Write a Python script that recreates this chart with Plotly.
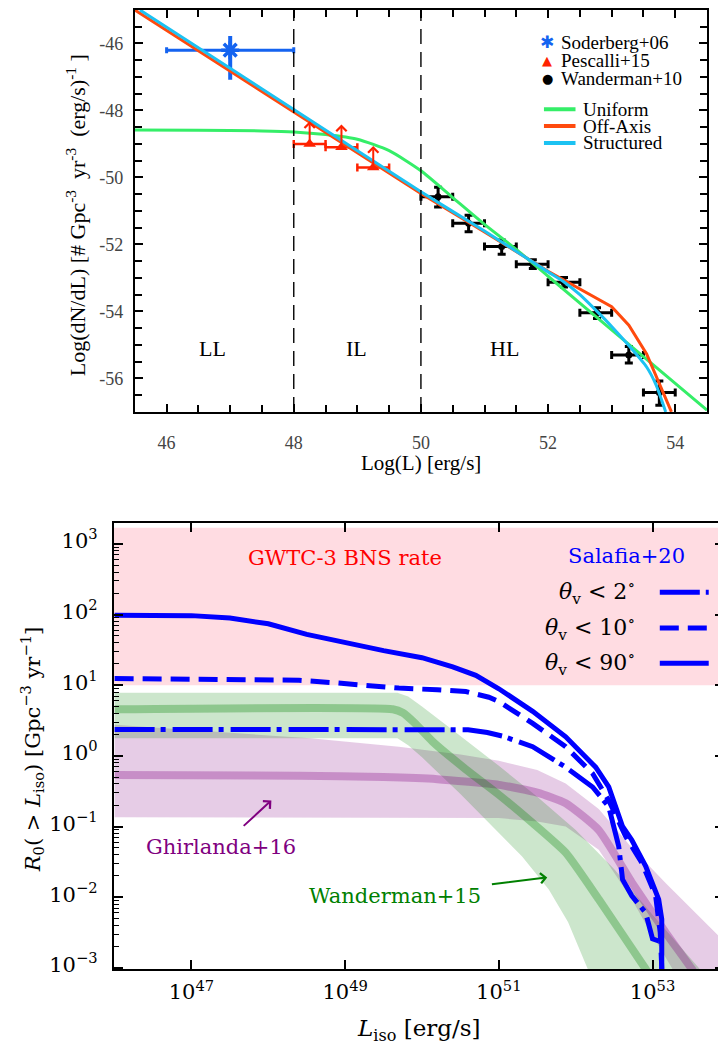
import numpy as np
import plotly.graph_objects as go

# The page body has an 8px margin: figure is 718x1042 drawn at (8, 8) of the 726x1050 window.
OFF = 8
W, H = 726 - OFF, 1050 - OFF

# ---------------- Top panel data (log10 units) ----------------
SOD_X = [47.0]
SOD_Y = [-46.2]
SOD_XERR_LO = [1.0]
SOD_XERR_HI = [1.0]
SOD_YERR_LO = [0.88]
SOD_YERR_HI = [0.42]

PES_X = [48.25, 48.75, 49.25]
PES_Y = [-49.0, -49.1, -49.7]
PES_XERR = [0.25, 0.25, 0.25]
PES_ARROW = [0.68, 0.68, 0.64]

WAN_X = [50.27, 50.75, 51.27, 51.76, 52.25, 52.77, 53.27, 53.75]
WAN_Y = [-50.58, -51.37, -52.06, -52.59, -53.13, -54.04, -55.30, -56.42]
WAN_XERR_LO = [0.27, 0.25, 0.27, 0.26, 0.25, 0.27, 0.27, 0.25]
WAN_XERR_HI = [0.23, 0.25, 0.23, 0.24, 0.25, 0.23, 0.23, 0.25]
WAN_YERR_HI = [0.29, 0.24, 0.19, 0.13, 0.14, 0.15, 0.25, 0.34]
WAN_YERR_LO = [0.30, 0.25, 0.23, 0.13, 0.14, 0.17, 0.24, 0.38]

UNI_X = [45.5, 46.5, 47.5, 48.0, 48.5, 49.0, 49.5, 50.0, 50.5, 51.0, 51.5, 52.0, 53.0, 54.5]
UNI_Y = [-48.58, -48.59, -48.61, -48.64, -48.72, -48.86, -49.2, -49.8, -50.6, -51.4, -52.15, -52.95, -54.55, -56.95]

OFF_X = [45.5, 48.0, 50.0, 51.0, 52.0, 53.0, 53.27, 53.55, 53.94]
OFF_Y = [-45.0, -48.05, -50.48, -51.63, -52.8, -53.86, -54.41, -55.27, -57.0]

STR_X = [45.58, 48.0, 50.0, 51.0, 52.0, 52.25, 52.5, 52.77, 53.0, 53.27, 53.55, 53.7, 53.85]
STR_Y = [-45.0, -47.97, -50.43, -51.6, -52.82, -53.12, -53.5, -54.0, -54.45, -55.02, -55.66, -56.2, -57.0]

REGION_X = [46.72, 48.98, 51.32]
REGION_Y = [-55.1, -55.1, -55.1]
REGION_LABELS = ["LL", "IL", "HL"]
REGION_BOUNDS = [48.0, 50.0]

# ---------------- Bottom panel data (log10 units) ----------------
GWTC3_RATE = [10.0, 1700.0]

SAL90_X = [46.0, 46.5, 47.0, 47.5, 48.0, 48.5, 49.0, 49.5, 50.0, 50.4, 50.7, 51.0, 51.44, 51.87, 52.26,
           52.43, 52.61, 52.73, 52.91, 53.08, 53.12, 53.12]
SAL90_Y = [1.99, 1.99, 1.985, 1.95, 1.87, 1.72, 1.6, 1.49, 1.39, 1.26, 1.14, 0.95, 0.63, 0.27, -0.16,
           -0.44, -1.0, -1.19, -1.56, -2.03, -2.31, -3.3]

SAL10_X = [46.0, 47.5, 48.4, 48.8, 49.2, 49.7, 50.2, 50.57, 50.87, 51.0, 51.44, 51.87, 52.22, 52.43, 52.65,
           52.86, 53.04, 53.10, 53.12, 53.12]
SAL10_Y = [1.095, 1.09, 1.07, 1.04, 1.0, 0.96, 0.935, 0.91, 0.83, 0.77, 0.46, 0.13, -0.25, -0.63, -1.14,
           -1.51, -1.98, -2.5, -3.0, -3.3]

SAL2_X = [46.0, 50.6, 50.85, 51.05, 51.44, 51.87, 52.22, 52.43, 52.56, 52.61, 52.73, 52.91, 53.0, 53.08]
SAL2_Y = [0.375, 0.37, 0.33, 0.28, 0.13, -0.16, -0.44, -0.72, -1.28, -1.75, -1.98, -2.22, -2.59, -2.62]

WAN15_X = [46.0, 49.62, 49.75, 49.9, 50.14, 50.57, 51.0, 51.44, 51.87, 52.3, 52.9, 53.2]
WAN15_Y = [0.66, 0.66, 0.61, 0.47, 0.20, -0.19, -0.55, -0.95, -1.37, -2.03, -3.0, -3.5]
WAN15_UP_X = [46.0, 49.68, 49.82, 50.0, 50.5, 51.0, 51.5, 52.0, 52.5, 53.0, 53.6, 54.0]
WAN15_UP_Y = [0.893, 0.893, 0.84, 0.70, 0.28, -0.14, -0.58, -1.05, -1.6, -2.25, -3.0, -3.5]
WAN15_LO_X = [46.0, 49.68, 49.82, 50.0, 50.5, 51.0, 51.3, 51.65, 51.9, 52.15, 52.4]
WAN15_LO_Y = [0.25, 0.25, 0.15, -0.02, -0.54, -1.09, -1.42, -1.89, -2.35, -3.0, -3.6]

GHI16_X = [46.0, 48.4, 49.5, 50.2, 51.0, 51.5, 51.87, 52.3, 52.73, 53.17, 53.5, 53.8]
GHI16_Y = [-0.27, -0.28, -0.30, -0.33, -0.41, -0.52, -0.67, -1.05, -1.79, -2.5, -3.0, -3.5]
GHI16_UP_X = [46.0, 47.0, 48.0, 48.55, 49.23, 49.7, 50.5, 51.0, 51.5, 51.87, 52.3, 52.73, 53.17, 53.94, 54.0]
GHI16_UP_Y = [0.44, 0.37, 0.29, 0.25, 0.18, 0.13, 0.02, -0.07, -0.2, -0.39, -0.75, -1.3, -1.8, -2.64, -2.7]
GHI16_LO_X = [46.0, 51.0, 51.5, 51.87, 52.3, 52.73, 52.95, 53.25, 54.0]
GHI16_LO_Y = [-0.87, -0.88, -0.93, -1.0, -1.33, -2.03, -2.45, -3.0, -4.5]


# ---------------- helpers (window pixel -> paper) ----------------
def pxx(x):
    return (x - OFF) / W


def pyy(y):
    return 1 - (y - OFF) / H


def p10(a):
    return 10 ** np.asarray(a, dtype=float)


SERIF_T = "Liberation Serif"
SERIF_B = "DejaVu Serif"
BLUE_S = "#1463f0"
RED_P = "#ff2200"
C_UNI = "#35ee68"
C_OFF = "#ff4a0e"
C_STR = "#1cc2f2"


def label(x, y, text, font, xanchor="center", yanchor="middle", **kw):
    d = dict(x=pxx(x), y=pyy(y), xref="paper", yref="paper", text=text, showarrow=False,
             xanchor=xanchor, yanchor=yanchor, font=font)
    d.update(kw)
    return d


fig = go.Figure()

# ---------------- Top panel traces ----------------
fig.add_trace(go.Scatter(
    x=SOD_X, y=SOD_Y, mode="markers", xaxis="x", yaxis="y", showlegend=False,
    marker=dict(symbol="asterisk-open", size=15, color=BLUE_S, line=dict(width=3.5, color=BLUE_S)),
    error_x=dict(type="data", symmetric=False, array=SOD_XERR_HI, arrayminus=SOD_XERR_LO,
                 color=BLUE_S, thickness=3, width=3),
    error_y=dict(type="data", symmetric=False, array=SOD_YERR_HI, arrayminus=SOD_YERR_LO,
                 color=BLUE_S, thickness=4, width=0),
))
fig.add_trace(go.Scatter(
    x=PES_X, y=PES_Y, mode="markers", xaxis="x", yaxis="y", showlegend=False,
    marker=dict(symbol="triangle-up", size=11, color=RED_P),
    error_x=dict(type="data", array=PES_XERR, color=RED_P, thickness=2.5, width=4),
))
fig.add_trace(go.Scatter(
    x=WAN_X, y=WAN_Y, mode="markers", xaxis="x", yaxis="y", showlegend=False,
    marker=dict(symbol="circle", size=7, color="black"),
    error_x=dict(type="data", symmetric=False, array=WAN_XERR_HI, arrayminus=WAN_XERR_LO,
                 color="black", thickness=3, width=4),
    error_y=dict(type="data", symmetric=False, array=WAN_YERR_HI, arrayminus=WAN_YERR_LO,
                 color="black", thickness=3, width=4),
))
fig.add_trace(go.Scatter(x=UNI_X, y=UNI_Y, mode="lines", xaxis="x", yaxis="y", showlegend=False,
                         line=dict(color=C_UNI, width=3, shape="spline", smoothing=0.6), name="Uniform"))
fig.add_trace(go.Scatter(x=OFF_X, y=OFF_Y, mode="lines", xaxis="x", yaxis="y", showlegend=False,
                         line=dict(color=C_OFF, width=3), name="Off-Axis"))
fig.add_trace(go.Scatter(x=STR_X, y=STR_Y, mode="lines", xaxis="x", yaxis="y", showlegend=False,
                         line=dict(color=C_STR, width=3, shape="spline", smoothing=0.5), name="Structured"))

annotations = []
shapes = []

# Pescalli lower-limit arrows
for x, y, a in zip(PES_X, PES_Y, PES_ARROW):
    annotations.append(dict(x=x, y=y + a, ax=x, ay=y, xref="x", yref="y", axref="x", ayref="y",
                            text="", showarrow=True, arrowhead=4, arrowsize=1, arrowwidth=2,
                            arrowcolor=RED_P, standoff=0, startstandoff=0))

# region boundaries and labels
for xb in REGION_BOUNDS:
    shapes.append(dict(type="line", xref="x", yref="y domain", x0=xb, x1=xb, y0=0, y1=1,
                       line=dict(color="black", width=1.4, dash="15px,8px")))
for x, y, t in zip(REGION_X, REGION_Y, REGION_LABELS):
    annotations.append(dict(x=x, y=y, xref="x", yref="y", text=t, showarrow=False,
                            xanchor="center", yanchor="middle",
                            font=dict(family=SERIF_T, size=22, color="black")))

# top legend (manual)
leg_mark = [("\u2731", BLUE_S, "Soderberg+06", 42.7, 17),
            ("\u25B2", RED_P, "Pescalli+15", 60.7, 13),
            ("\u25CF", "black", "Wanderman+10", 78.7, 13)]
for sym, col, lab, yy, fs in leg_mark:
    annotations.append(label(548, yy, sym, dict(family="DejaVu Sans", size=fs, color=col)))
    annotations.append(label(560, yy, lab, dict(family=SERIF_T, size=19, color="black"), xanchor="left"))
leg_line = [(C_UNI, "Uniform", 110), (C_OFF, "Off-Axis", 127), (C_STR, "Structured", 144)]
for col, lab, yy in leg_line:
    shapes.append(dict(type="line", xref="paper", yref="paper", x0=pxx(544.7), x1=pxx(576.3),
                       y0=pyy(yy), y1=pyy(yy), line=dict(color=col, width=4)))
    annotations.append(label(582, yy, lab, dict(family=SERIF_T, size=19, color="black"), xanchor="left"))

# ---------------- Bottom panel traces ----------------
shapes.append(dict(type="rect", xref="x2 domain", yref="y2", x0=0, x1=1,
                   y0=GWTC3_RATE[0], y1=GWTC3_RATE[1], fillcolor="rgba(255,192,203,0.55)",
                   line=dict(width=0), layer="below"))


def band(ux, uy, lx, ly):
    bx = list(ux) + list(lx)[::-1]
    by = list(uy) + list(ly)[::-1]
    return p10(bx), p10(by)


bx, by = band(GHI16_UP_X, GHI16_UP_Y, GHI16_LO_X, GHI16_LO_Y)
fig.add_trace(go.Scatter(x=bx, y=by, mode="lines", fill="toself", fillcolor="rgba(128,0,128,0.2)",
                         line=dict(width=0), xaxis="x2", yaxis="y2", showlegend=False, hoverinfo="skip"))
bx, by = band(WAN15_UP_X, WAN15_UP_Y, WAN15_LO_X, WAN15_LO_Y)
fig.add_trace(go.Scatter(x=bx, y=by, mode="lines", fill="toself", fillcolor="rgba(0,128,0,0.2)",
                         line=dict(width=0), xaxis="x2", yaxis="y2", showlegend=False, hoverinfo="skip"))
fig.add_trace(go.Scatter(x=p10(GHI16_X), y=p10(GHI16_Y), mode="lines", xaxis="x2", yaxis="y2",
                         showlegend=False, line=dict(color="rgba(128,0,128,0.3)", width=8, shape="spline", smoothing=0.5)))
fig.add_trace(go.Scatter(x=p10(WAN15_X), y=p10(WAN15_Y), mode="lines", xaxis="x2", yaxis="y2",
                         showlegend=False, line=dict(color="rgba(0,128,0,0.3)", width=8, shape="spline", smoothing=0.5)))

DASH_2 = "40px,6px,5px,7px"
DASH_10 = "19px,9px"
fig.add_trace(go.Scatter(x=p10(SAL2_X), y=p10(SAL2_Y), mode="lines", xaxis="x2", yaxis="y2", showlegend=False,
                         line=dict(color="#0000ff", width=5, dash=DASH_2)))
fig.add_trace(go.Scatter(x=p10(SAL10_X), y=p10(SAL10_Y), mode="lines", xaxis="x2", yaxis="y2", showlegend=False,
                         line=dict(color="#0000ff", width=5, dash=DASH_10)))
fig.add_trace(go.Scatter(x=p10(SAL90_X), y=p10(SAL90_Y), mode="lines", xaxis="x2", yaxis="y2", showlegend=False,
                         line=dict(color="#0000ff", width=5)))

# bottom texts
annotations.append(label(345, 562, "GWTC-3 BNS rate", dict(family=SERIF_B, size=21, color="#ff0000")))
annotations.append(label(627, 560, "Salafia+20", dict(family=SERIF_B, size=21, color="#0000ff")))
leg_b = [("<i>θ</i><sub>v</sub> &lt; 2<sup>∘</sup>", DASH_2, 596.7),
         ("<i>θ</i><sub>v</sub> &lt; 10<sup>∘</sup>", DASH_10, 632.7),
         ("<i>θ</i><sub>v</sub> &lt; 90<sup>∘</sup>", "solid", 668.3)]
for lab, dsh, yy in leg_b:
    annotations.append(label(638, yy, lab, dict(family=SERIF_B, size=22, color="black"), xanchor="right"))
    shapes.append(dict(type="line", xref="paper", yref="paper", x0=pxx(660.7), x1=pxx(709.7),
                       y0=pyy(yy), y1=pyy(yy), line=dict(color="#0000ff", width=5, dash=dsh)))

annotations.append(label(221, 853.3, "Ghirlanda+16", dict(family=SERIF_B, size=21, color="#800080")))
annotations.append(dict(x=48.04, y=-0.63, ax=47.66, ay=-1.01, xref="x2", yref="y2", axref="x2", ayref="y2",
                        text="", showarrow=True, arrowhead=4, arrowsize=1, arrowwidth=2,
                        arrowcolor="#800080", standoff=0, startstandoff=0))
annotations.append(label(396, 902.7, "Wanderman+15", dict(family=SERIF_B, size=21, color="#008000")))
annotations.append(dict(x=51.63, y=-1.72, ax=50.89, ay=-1.82, xref="x2", yref="y2", axref="x2", ayref="y2",
                        text="", showarrow=True, arrowhead=4, arrowsize=1, arrowwidth=2,
                        arrowcolor="#008000", standoff=0, startstandoff=0))

# axis titles
annotations.append(label(422, 467, "Log(L) [erg/s]", dict(family=SERIF_T, size=21, color="black")))
annotations.append(label(76, 217,
                         "Log(dN/dL) [# Gpc<sup>-3</sup>\u00a0\u00a0yr<sup>-3</sup>\u00a0\u00a0(erg/s)<sup>-1</sup>\u00a0]",
                         dict(family=SERIF_T, size=22, color="black"), textangle=-90))
annotations.append(label(420, 1038, "<i>L</i><sub>iso</sub> [erg/s]",
                         dict(family=SERIF_B, size=23, color="black")))
annotations.append(label(32, 755,
                         "<i>R</i><sub>0</sub>( &gt; <i>L</i><sub>iso</sub>) [Gpc<sup>−3</sup> yr<sup>−1</sup>]",
                         dict(family=SERIF_B, size=21, color="black"), textangle=-90))

# ---------------- axes ----------------
top_x_ticks = [46, 48, 50, 52, 54]
top_y_ticks = [-56, -54, -52, -50, -48, -46]
bot_x_ticks = [47, 49, 51, 53]
bot_y_ticks = [-3, -2, -1, 0, 1, 2, 3]
bot_y_minor = [k * 10.0 ** n for n in range(-3, 4) for k in range(2, 10)]

common_top = dict(showline=True, linecolor="black", linewidth=2, mirror="ticks", ticks="inside",
                  ticklen=8, tickwidth=1.5, tickcolor="black", showgrid=False, zeroline=False,
                  tickfont=dict(family=SERIF_T, size=18, color="#444"),
                  minor=dict(dtick=0.5, tick0=0, ticks="inside", ticklen=7, tickwidth=1.5,
                             tickcolor="black", showgrid=False))

fig.update_layout(
    width=W, height=H, margin=dict(l=0, r=0, t=0, b=0), autosize=False,
    paper_bgcolor="white", plot_bgcolor="white", showlegend=False,
    xaxis=dict(domain=[pxx(135), pxx(708)], range=[45.5, 54.5], anchor="y",
               tickvals=top_x_ticks, ticktext=[str(v) for v in top_x_ticks], ticklabelstandoff=14,
               **common_top),
    yaxis=dict(domain=[pyy(415), pyy(10)], range=[-57, -45], anchor="x",
               tickvals=top_y_ticks, ticktext=["-%d" % abs(v) for v in top_y_ticks], ticklabelstandoff=6,
               **common_top),
    xaxis2=dict(domain=[pxx(114), pxx(725)], type="log", range=[45.99, 53.93], anchor="y2",
                tickvals=[10.0 ** v for v in bot_x_ticks],
                ticktext=["10<sup>%d</sup>" % v for v in bot_x_ticks],
                showline=True, linecolor="black", linewidth=2, mirror="ticks", ticks="inside",
                ticklen=9, tickwidth=1.5, tickcolor="black", showgrid=False, zeroline=False,
                ticklabelstandoff=3,
                tickfont=dict(family=SERIF_B, size=21, color="black")),
    yaxis2=dict(domain=[pyy(976.7), pyy(526.7)], type="log", range=[-3.02, 3.3], anchor="x2",
                tickvals=[10.0 ** v for v in bot_y_ticks],
                ticktext=["10<sup>%s</sup>" % (("−%d" % -v) if v < 0 else str(v)) for v in bot_y_ticks],
                showline=True, linecolor="black", linewidth=2, mirror="ticks", ticks="inside",
                ticklen=9, tickwidth=1.5, tickcolor="black", showgrid=False, zeroline=False,
                ticklabelstandoff=10, ticklabelshift=-3,
                tickfont=dict(family=SERIF_B, size=21, color="black"),
                minor=dict(tickmode="array", tickvals=bot_y_minor, ticks="inside", ticklen=5,
                           tickwidth=1.2, tickcolor="black", showgrid=False)),
    annotations=annotations,
    shapes=shapes,
)

fig.write_html("out.html")
